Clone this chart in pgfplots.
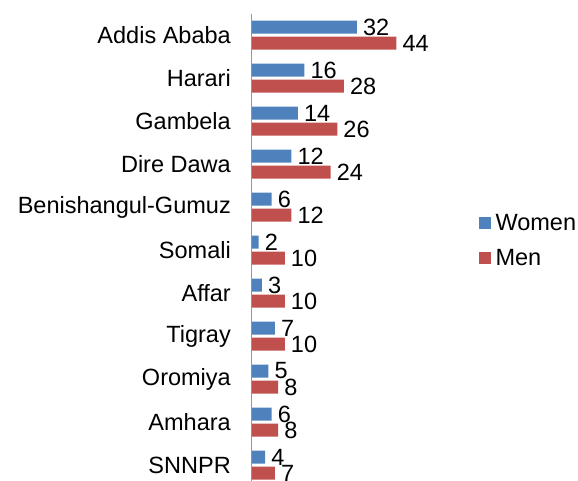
\documentclass[border=0pt]{standalone}
\usepackage{fontspec}
\setmainfont{Liberation Sans}
\usepackage{pgfplots}
\pgfplotsset{compat=1.18}
\definecolor{women}{HTML}{4F81BD}
\definecolor{men}{HTML}{C0504D}
\newcommand{\chartfont}{\fontsize{23.6}{28}\selectfont}
\begin{document}
\begin{tikzpicture}
\begin{axis}[
  xbar,
  x=3.28bp, y=43bp,
  xmin=0, xmax=60,
  ymin=-0.5, ymax=10.5,
  y dir=reverse,
  bar width=13bp,
  axis x line=none,
  axis y line*=left,
  y axis line style={draw=black!40, line width=1bp, -},
  ytick={0,...,10},
  yticklabels={Addis Ababa, Harari, Gambela, Dire Dawa, Benishangul-Gumuz, Somali, Affar, Tigray, Oromiya, Amhara, SNNPR},
  major tick length=0pt,
  yticklabel style={font=\chartfont, inner sep=0pt, xshift=-21bp},
  nodes near coords,
  nodes near coords style={font=\chartfont, anchor=west, inner sep=0pt, xshift=6bp},
  /pgf/number format/assume math mode=true,
  legend style={at={(1.15,0.52)}, anchor=west, draw=none, fill=none,
    font=\chartfont, inner sep=0pt, row sep=18bp, column sep=5bp,
    nodes={inner sep=0pt}},
  legend cell align=left,
  legend image code/.code={\fill[#1,draw=none] (0bp,-6bp) rectangle (12bp,6bp);},
  clip=false,
]
\addplot[fill=women, draw=none, bar shift=8bp] coordinates {
  (32,0) (16,1) (14,2) (12,3) (6,4) (2,5) (3,6) (7,7) (5,8) (6,9) (4,10)};
\addplot[fill=men, draw=none, bar shift=-8bp] coordinates {
  (44,0) (28,1) (26,2) (24,3) (12,4) (10,5) (10,6) (10,7) (8,8) (8,9) (7,10)};
\legend{Women, Men}
\coordinate (tl) at (axis cs:0,-0.5);
\end{axis}
\pgfresetboundingbox
\path[use as bounding box] ([shift={(-252bp,13.5bp)}]tl) rectangle ([shift={(326bp,-467.5bp)}]tl);
\end{tikzpicture}
\end{document}
